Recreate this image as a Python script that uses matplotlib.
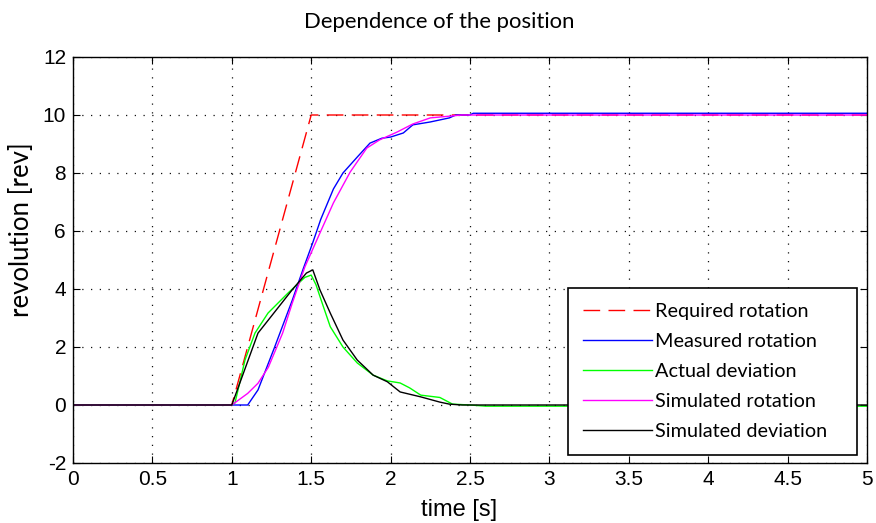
import matplotlib
matplotlib.use("Agg")
import matplotlib.pyplot as plt
from matplotlib import font_manager as fm

plt.rcParams["axes.unicode_minus"] = False
names = {f.name for f in fm.fontManager.ttflist}
NARROW = "Liberation Sans Narrow" if "Liberation Sans Narrow" in names else "Liberation Sans"
SOFT = "Lato" if "Lato" in names else "DejaVu Sans"

# ---- data ----
t_req = [0.0, 1.0, 1.5, 5.0]
v_req = [0.0, 0.0, 10.0, 10.0]

t_meas = [0.0, 1.10, 1.165, 1.27, 1.38, 1.45, 1.51, 1.56, 1.64, 1.70, 1.79, 1.87,
          1.945, 2.0, 2.08, 2.14, 2.25, 2.37, 2.41, 2.50, 2.52, 5.0]
v_meas = [0.0, 0.0, 0.52, 2.0, 3.6, 4.7, 5.6, 6.4, 7.45, 8.0, 8.55, 9.03,
          9.2, 9.24, 9.38, 9.66, 9.76, 9.9, 10.0, 10.0, 10.06, 10.06]

t_act = [0.0, 1.0, 1.02, 1.083, 1.146, 1.228, 1.354, 1.46, 1.50, 1.53, 1.57, 1.62,
         1.70, 1.79, 1.89, 1.98, 2.06, 2.12, 2.19, 2.31, 2.39, 2.50, 2.60, 5.0]
v_act = [0.0, 0.0, 0.07, 1.55, 2.48, 3.17, 3.86, 4.4, 4.48, 4.15, 3.5, 2.7,
         2.0, 1.45, 1.03, 0.83, 0.76, 0.59, 0.34, 0.26, 0.03, 0.0, -0.04, -0.04]

t_sim = [0.0, 1.0, 1.10, 1.165, 1.23, 1.32, 1.38, 1.46, 1.555, 1.64, 1.745, 1.85,
         1.93, 2.04, 2.14, 2.25, 2.45, 5.0]
v_sim = [0.0, 0.0, 0.4, 0.75, 1.3, 2.48, 3.5, 4.76, 5.93, 6.97, 8.03, 8.86,
         9.14, 9.41, 9.69, 9.9, 10.0, 10.0]

t_sdev = [0.0, 1.0, 1.08, 1.165, 1.23, 1.38, 1.47, 1.51, 1.555, 1.62, 1.70, 1.79,
          1.89, 1.98, 2.06, 2.19, 2.31, 2.37, 2.45, 5.0]
v_sdev = [0.0, 0.0, 1.2, 2.48, 2.93, 3.97, 4.55, 4.66, 3.97, 3.17, 2.24, 1.55,
          1.03, 0.8, 0.45, 0.28, 0.1, 0.03, 0.0, 0.0]

labels = ["Required rotation", "Measured rotation", "Actual deviation",
          "Simulated rotation", "Simulated deviation"]
x_ticks = [0, 0.5, 1, 1.5, 2, 2.5, 3, 3.5, 4, 4.5, 5]
x_ticklabels = ["0", "0.5", "1", "1.5", "2", "2.5", "3", "3.5", "4", "4.5", "5"]
y_ticks = [-2, 0, 2, 4, 6, 8, 10, 12]
y_ticklabels = ["-2", "0", "2", "4", "6", "8", "10", "12"]

# ---- figure ----
fig = plt.figure(figsize=(8.76, 5.23), dpi=100)
ax = fig.add_axes([73/876, 1-463/523, (867-73)/876, (463-57)/523])

lw = 1.0
ax.plot(t_req, v_req, color="#ff0000", lw=lw, dashes=(12, 6), label=labels[0])
ax.plot(t_meas, v_meas, color="#0000ff", lw=lw, label=labels[1])
ax.plot(t_act, v_act, color="#00ff00", lw=lw, label=labels[2])
ax.plot(t_sim, v_sim, color="#ff00ff", lw=lw, label=labels[3])
ax.plot(t_sdev, v_sdev, color="#000000", lw=lw, label=labels[4])

ax.set_xlim(0, 5)
ax.set_ylim(-2, 12)
ax.set_xticks(x_ticks)
ax.set_xticklabels(x_ticklabels)
ax.set_yticks(y_ticks)
ax.set_yticklabels(y_ticklabels)
ax.grid(True, color="#111111", linestyle=(0, (1, 6)), linewidth=0.9)
ax.tick_params(direction="in", top=True, right=True, length=5, width=0.8,
               labelsize=15, pad=5)
for lab in ax.get_xticklabels() + ax.get_yticklabels():
    lab.set_fontfamily(NARROW)
for s in ax.spines.values():
    s.set_linewidth(1.0)
    s.set_color("black")

leg = ax.legend(loc="upper left", bbox_to_anchor=(0.6234, 0.0246, 0.364, 0.4064),
                mode="expand", borderaxespad=0, fancybox=False, framealpha=1,
                edgecolor="black", prop={"family": SOFT, "size": 14.3},
                handlelength=3.5, handletextpad=0.15, labelspacing=0.66,
                borderpad=0.75)
leg.get_frame().set_linewidth(1.2)

fig.text(0.501, 1-22/523, "Dependence of the position", ha="center", va="center",
         fontsize=15.9, family=SOFT)
fig.text(22/876, 1-230/523, "revolution [rev]", ha="center", va="center",
         rotation=90, fontsize=18.5, family=SOFT)
fig.text(459/876, 1-510/523, "time [s]", ha="center", va="center",
         fontsize=17, family=NARROW)

fig.savefig("out.png", dpi=100)
